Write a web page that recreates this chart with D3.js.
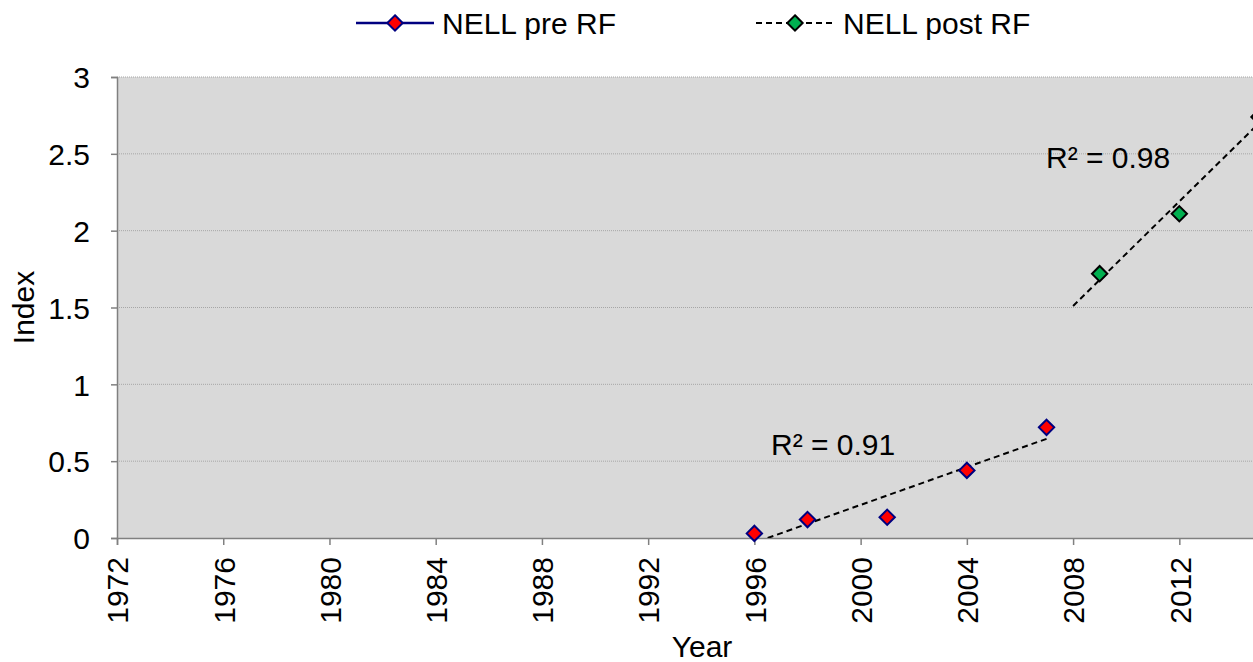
<!DOCTYPE html>
<html lang="en">
<head>
<meta charset="UTF-8">
<title>NELL pre / post RF</title>
<script src="https://d3js.org/d3.v7.min.js"></script>
<style>
  body { margin: 0; background: #fff; }
  text { font-family: "Liberation Sans", Arial, sans-serif; fill: #000; }
</style>
</head>
<body>
<svg id="chart" width="1253" height="662"></svg>
<script>
// data
var preYears = [1996, 1998, 2001, 2004, 2007];
var preValues = [0.03, 0.12, 0.135, 0.44, 0.72];
var postYears = [2009, 2012, 2015];
var postValues = [1.72, 2.11, 2.74];
var xTicks = [1972, 1976, 1980, 1984, 1988, 1992, 1996, 2000, 2004, 2008, 2012];
var yTicks = [0, 0.5, 1, 1.5, 2, 2.5, 3];
var preLabel = "NELL pre RF", postLabel = "NELL post RF";
var preR2 = "R² = 0.91", postR2 = "R² = 0.98";

var svg = d3.select("#chart");
var pLeft = 117, pRight = 1259, pTop = 77, pBottom = 538;
var fs = "30px";

var x = d3.scaleLinear().domain([1972, 2015]).range([pLeft, pRight]);
var y = d3.scaleLinear().domain([0, 3]).range([pBottom, pTop]);

// plot background
svg.append("rect")
  .attr("x", pLeft).attr("y", pTop)
  .attr("width", pRight - pLeft).attr("height", pBottom - pTop)
  .attr("fill", "#d9d9d9");

// grid lines
svg.append("g").selectAll("line")
  .data(yTicks.filter(function(d) { return d > 0; }))
  .enter().append("line")
  .attr("x1", pLeft).attr("x2", pRight)
  .attr("y1", function(d) { return y(d); })
  .attr("y2", function(d) { return y(d); })
  .attr("stroke", "#a6a6a6")
  .attr("stroke-width", 1)
  .attr("stroke-dasharray", "1,1");

// axes
var yAxis = svg.append("g")
  .attr("transform", "translate(" + pLeft + ",0)")
  .call(d3.axisLeft(y).tickValues(yTicks).tickSize(6).tickPadding(21)
    .tickFormat(function(d) { return d; }));
var xAxis = svg.append("g")
  .attr("transform", "translate(0," + pBottom + ")")
  .call(d3.axisBottom(x).tickValues(xTicks).tickSize(7).tickFormat(d3.format("d")));

[yAxis, xAxis].forEach(function(a) {
  a.select(".domain").attr("stroke", "#808080").attr("stroke-width", 1.5);
  a.selectAll(".tick line").attr("stroke", "#808080").attr("stroke-width", 1.5);
  a.selectAll("text").attr("font-size", fs)
    .attr("font-family", "Liberation Sans, Arial, sans-serif").attr("fill", "#000");
});
yAxis.selectAll("text").attr("dy", "0.36em");
xAxis.selectAll("text")
  .attr("transform", "rotate(-90)")
  .attr("text-anchor", "end")
  .attr("x", -19).attr("y", 0).attr("dy", "0.36em");

// axis titles
svg.append("text")
  .attr("transform", "translate(23," + ((pTop + pBottom) / 2) + ") rotate(-90)")
  .attr("text-anchor", "middle").attr("font-size", fs)
  .attr("dy", "0.36em")
  .text("Index");
svg.append("text")
  .attr("x", 702).attr("y", 657)
  .attr("text-anchor", "middle").attr("font-size", fs)
  .text("Year");

// linear trend lines (least squares on the points)
function fit(xs, ys) {
  var mx = d3.mean(xs), my = d3.mean(ys), sxy = 0, sxx = 0;
  xs.forEach(function(v, i) { sxy += (v - mx) * (ys[i] - my); sxx += (v - mx) * (v - mx); });
  var b = sxy / sxx;
  return function(t) { return my + b * (t - mx); };
}
var fPre = fit(preYears, preValues);
var fPost = fit(postYears, postValues);

svg.append("clipPath").attr("id", "plotClip").append("rect")
  .attr("x", pLeft).attr("y", pTop).attr("width", pRight - pLeft).attr("height", pBottom - pTop);

// the trend can't drop below zero: start where it crosses the axis
var lo = d3.range(1996, 2007, 0.01).find(function(t) { return fPre(t) >= 0; });
svg.append("line")
  .attr("clip-path", "url(#plotClip)")
  .attr("x1", x(lo)).attr("y1", y(fPre(lo)))
  .attr("x2", x(2007)).attr("y2", y(fPre(2007)))
  .attr("stroke", "#000").attr("stroke-width", 2).attr("stroke-dasharray", "6,4");
svg.append("line")
  .attr("clip-path", "url(#plotClip)")
  .attr("x1", x(2008)).attr("y1", y(fPost(2008)))
  .attr("x2", x(2016)).attr("y2", y(fPost(2016)))
  .attr("stroke", "#000").attr("stroke-width", 2).attr("stroke-dasharray", "6,4");

// markers
var diamond = d3.symbol().type(d3.symbolDiamond2).size(150);
function markers(xs, ys, fill, stroke) {
  svg.append("g").selectAll("path")
    .data(xs)
    .enter().append("path")
    .attr("d", diamond)
    .attr("transform", function(d, i) { return "translate(" + x(d) + "," + y(ys[i]) + ")"; })
    .attr("fill", fill).attr("stroke", stroke).attr("stroke-width", 2);
}
markers(preYears, preValues, "#ff0000", "#000080");
markers(postYears, postValues, "#00b050", "#000000");

// r squared labels
svg.append("text").attr("x", 771).attr("y", 455).attr("font-size", fs).text(preR2);
svg.append("text").attr("x", 1046).attr("y", 168).attr("font-size", fs).text(postR2);

// legend
var lg = svg.append("g");
lg.append("line").attr("x1", 356).attr("x2", 434).attr("y1", 23).attr("y2", 23)
  .attr("stroke", "#000080").attr("stroke-width", 2.5);
lg.append("path").attr("d", diamond).attr("transform", "translate(395,23)")
  .attr("fill", "#ff0000").attr("stroke", "#000080").attr("stroke-width", 2);
lg.append("text").attr("x", 442).attr("y", 23).attr("dy", "0.36em")
  .attr("font-size", fs).text(preLabel);

lg.append("line").attr("x1", 756).attr("x2", 836).attr("y1", 23).attr("y2", 23)
  .attr("stroke", "#000").attr("stroke-width", 2).attr("stroke-dasharray", "6,4");
lg.append("path").attr("d", diamond).attr("transform", "translate(795,23)")
  .attr("fill", "#00b050").attr("stroke", "#000").attr("stroke-width", 2);
lg.append("text").attr("x", 843).attr("y", 23).attr("dy", "0.36em")
  .attr("font-size", fs).text(postLabel);
</script>
</body>
</html>
